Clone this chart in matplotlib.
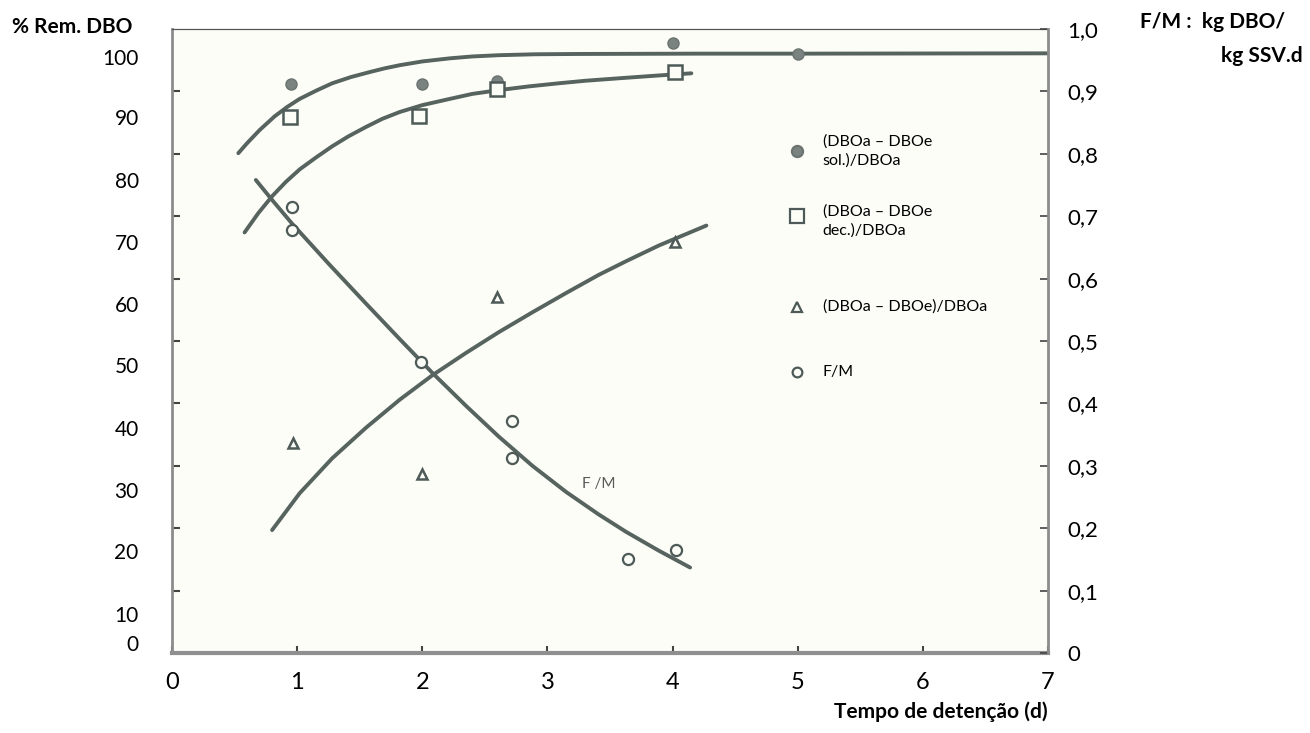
import matplotlib
matplotlib.use("Agg")
import matplotlib.pyplot as plt

plt.rcParams['font.family'] = ['Lato', 'DejaVu Sans']

# pontos medidos (tempo de detenção em dias)
t_sol = [0.95, 2.0, 2.6, 4.0, 5.0]
rem_sol = [91.2, 91.2, 91.7, 97.8, 96.0]

t_dec = [0.94, 1.97, 2.6, 4.02]
rem_dec = [85.9, 86.0, 90.4, 93.1]

t_tot = [0.97, 2.0, 2.6, 4.02]
rem_tot = [33.7, 28.7, 57.0, 65.8]

t_fm = [0.96, 0.96, 1.99, 2.72, 2.72, 3.64, 4.03]
fm = [0.714, 0.678, 0.467, 0.371, 0.312, 0.150, 0.165]

# curvas traçadas à mão
curva_sol_t = [0.53, 0.60, 0.70, 0.82, 0.92, 1.02, 1.15, 1.28, 1.43, 1.58, 1.70, 1.82, 2.0,
               2.22, 2.4, 2.61, 2.9, 3.25, 4.21, 5.0, 7.0]
curva_sol_y = [80.1, 81.7, 83.8, 86.0, 87.5, 88.8, 90.1, 91.3, 92.3, 93.1, 93.7, 94.2, 94.8,
               95.3, 95.6, 95.8, 95.95, 96.0, 96.05, 96.05, 96.1]

curva_dec_t = [0.58, 0.69, 0.80, 0.91, 1.02, 1.15, 1.28, 1.41, 1.55, 1.68, 1.82, 2.0, 2.22,
               2.4, 2.61, 2.85, 3.09, 3.3, 3.57, 3.85, 4.15]
curva_dec_y = [67.4, 70.5, 73.2, 75.5, 77.5, 79.4, 81.2, 82.8, 84.3, 85.6, 86.7, 87.8, 88.8,
               89.6, 90.2, 90.8, 91.3, 91.7, 92.1, 92.5, 92.9]

curva_tot_t = [0.80, 1.02, 1.28, 1.55, 1.82, 2.08, 2.35, 2.61, 2.88, 3.15, 3.41, 3.63, 3.89, 4.27]
curva_tot_y = [19.7, 25.6, 31.2, 36.1, 40.6, 44.5, 48.1, 51.4, 54.6, 57.7, 60.6, 62.8, 65.3, 68.5]

curva_fm_t = [0.67, 0.80, 0.96, 1.26, 1.55, 1.82, 2.08, 2.35, 2.61, 2.88, 3.15, 3.41, 3.63, 3.89, 4.14]
curva_fm_y = [0.758, 0.726, 0.688, 0.622, 0.560, 0.503, 0.449, 0.396, 0.347, 0.300, 0.258, 0.222,
              0.194, 0.164, 0.137]

x_ticks = [0, 1, 2, 3, 4, 5, 6, 7]
esq_labels = ['100', '90', '80', '70', '60', '50', '40', '30', '20', '10', '0']
dir_labels = ['0', '0,1', '0,2', '0,3', '0,4', '0,5', '0,6', '0,7', '0,8', '0,9', '1,0']
dir_ticks = [0, 0.1, 0.2, 0.3, 0.4, 0.5, 0.6, 0.7, 0.8, 0.9, 1.0]

# os rótulos da esquerda estão deslocados em relação às marcas originais
esq_pos = [95.5, 85.9, 75.8, 65.8, 55.9, 46.1, 36.0, 26.2, 16.4, 6.3, 1.6]

cor = '#56635f'
fundo = '#fdfdf8'

fig = plt.figure(figsize=(13.1, 7.33), dpi=100)
ax = fig.add_axes([172 / 1310, 80 / 733, 876 / 1310, 624 / 733])
ax.set_facecolor(fundo)
ax.set_xlim(0, 7)
ax.set_ylim(0, 100)
ax2 = ax.twinx()
ax2.set_ylim(0, 1.0)

# curvas
estilo = dict(color=cor, lw=2.8, solid_capstyle='round', solid_joinstyle='round', zorder=2)
ax.plot(curva_sol_t, curva_sol_y, **estilo)
ax.plot(curva_dec_t, curva_dec_y, **estilo)
ax.plot(curva_tot_t, curva_tot_y, **estilo)
ax2.plot(curva_fm_t, curva_fm_y, **estilo)

# pontos
ax.plot(t_sol, rem_sol, 'o', ms=8, color='#7b8381', mec='#6c7472', zorder=3)
ax.plot(t_dec, rem_dec, 's', ms=10, mfc=fundo, mec='#4d5a57', mew=1.8, zorder=3)
ax.plot(t_tot, rem_tot, '^', ms=7, mfc=fundo, mec='#4d5a57', mew=1.8, zorder=3)
ax2.plot(t_fm, fm, 'o', ms=8, mfc=fundo, mec='#4d5a57', mew=1.6, zorder=3)

ax2.text(3.28, 0.265, 'F /M', fontsize=11, color='#5a5a5a')

# legenda desenhada à mão
leg = [('o', '#7b8381', '#6c7472', 8, 0.804, 0.804, '(DBOa – DBOe\nsol.)/DBOa'),
       ('s', fundo, '#4d5a57', 10, 0.700, 0.692, '(DBOa – DBOe\ndec.)/DBOa'),
       ('^', fundo, '#4d5a57', 7, 0.555, 0.555, '(DBOa – DBOe)/DBOa'),
       ('o', fundo, '#4d5a57', 7, 0.451, 0.451, 'F/M')]
for m, fc, ec, s, ym, yt, txt in leg:
    ax2.plot([0.7135], [ym], m, ms=s, mfc=fc, mec=ec, mew=1.6, transform=ax.transAxes, clip_on=False)
    ax2.text(0.743, yt, txt, transform=ax.transAxes, fontsize=11.5, va='center', linespacing=1.45)

# eixos
for s in ['left', 'top', 'bottom']:
    ax2.spines[s].set_visible(False)
ax.spines['right'].set_visible(False)
ax.spines['left'].set_color('#8c8c8c')
ax.spines['left'].set_linewidth(2)
ax.spines['bottom'].set_color('#8f8f8f')
ax.spines['bottom'].set_linewidth(3)
ax.spines['top'].set_color('#555555')
ax.spines['top'].set_linewidth(0.9)
ax2.spines['right'].set_color('#8c8c8c')
ax2.spines['right'].set_linewidth(2)

ax.set_xticks(x_ticks)
ax.tick_params(axis='x', direction='in', length=5, width=1.5, color='#444444', pad=14, labelsize=17)

ax.set_yticks(esq_pos, labels=esq_labels)
ax.tick_params(axis='y', which='major', length=0, pad=24, labelsize=15)
ax.set_yticks(range(10, 100, 10), minor=True)
ax.tick_params(axis='y', which='minor', direction='in', length=6, width=1.5, color='#444444')

ax2.set_yticks(dir_ticks, labels=dir_labels)
ax2.tick_params(axis='y', direction='in', length=6, width=1.2, color='#444444', pad=14, labelsize=16)

ax.set_xlabel('Tempo de detenção (d)', loc='right', fontsize=15, fontweight='bold', labelpad=6)
fig.text(12 / 1310, 1 - 27 / 733, '% Rem. DBO', fontsize=15, fontweight='bold', va='center', ha='left')
fig.text(1140 / 1310, 1 - 22 / 733, 'F/M :  kg DBO/', fontsize=15, fontweight='bold', va='center', ha='left')
fig.text(1303 / 1310, 1 - 56 / 733, 'kg SSV.d', fontsize=15, fontweight='bold', va='center', ha='right')

fig.savefig('out.png', dpi=100, facecolor='white')
